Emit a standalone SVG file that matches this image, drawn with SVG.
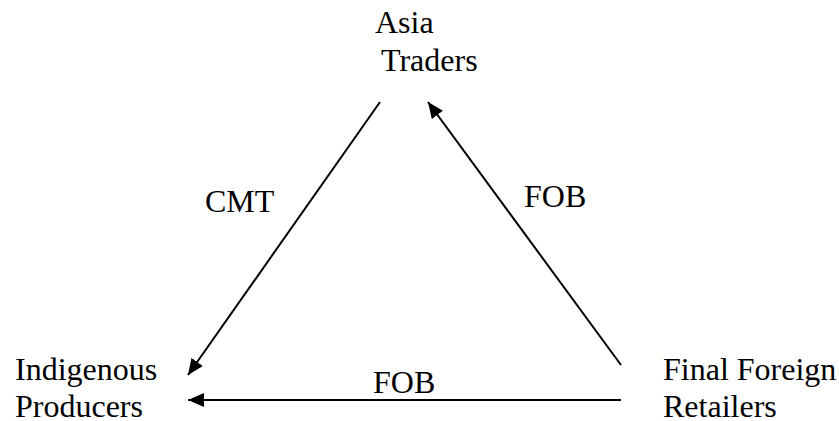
<svg xmlns="http://www.w3.org/2000/svg" width="839" height="421" viewBox="0 0 839 421">
<style>
text{font-family:"Liberation Serif","Times New Roman",serif;font-size:32px;fill:#000}
.c line{stroke:#000;stroke-width:2;fill:none}
</style>
<defs>
<marker id="ah" viewBox="0 0 10 10" refX="10" refY="5" markerWidth="8" markerHeight="7" markerUnits="strokeWidth" orient="auto" preserveAspectRatio="none">
<path d="M0,0 L10,5 L0,10 z" fill="#000"/>
</marker>
</defs>
<g id="asia"><text x="375" y="33">Asia</text><text x="381" y="71">Traders</text></g>
<g id="indigenous"><text x="15" y="380">Indigenous</text><text x="15" y="417">Producers</text></g>
<g id="retailers"><text x="663" y="380">Final Foreign</text><text x="663" y="417">Retailers</text></g>
<g class="c" id="connectors">
<line x1="380" y1="102" x2="188" y2="375" marker-end="url(#ah)"/>
<line x1="621" y1="365" x2="428" y2="102" marker-end="url(#ah)"/>
<line x1="621" y1="400" x2="188" y2="400" marker-end="url(#ah)"/>
<text x="205" y="212">CMT</text>
<text x="524" y="207">FOB</text>
<text x="373" y="393">FOB</text>
</g>
</svg>
